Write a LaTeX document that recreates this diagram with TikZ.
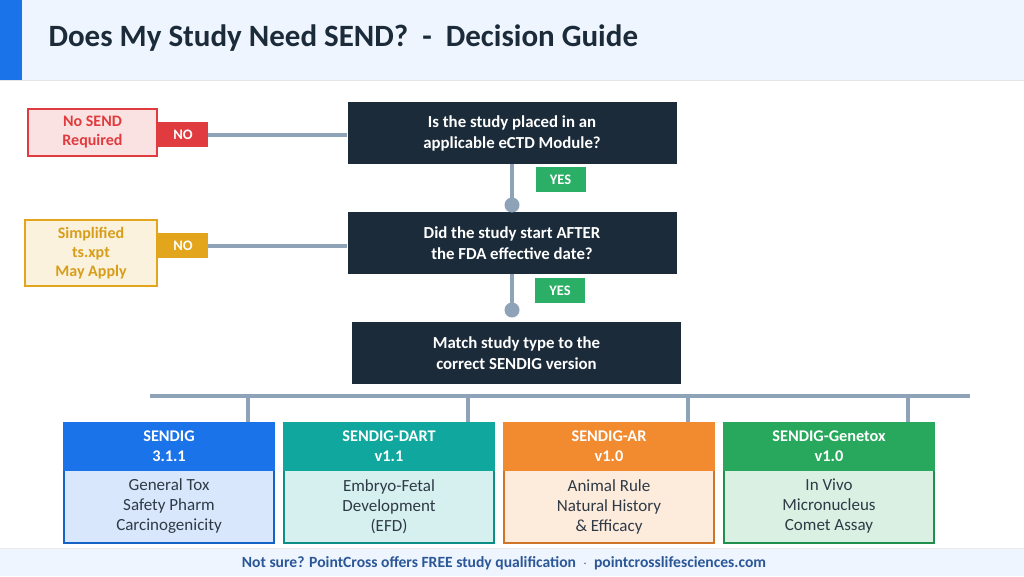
\documentclass[tikz,border=0pt]{standalone}
\usepackage{fontspec}
\setmainfont{Carlito}
\usetikzlibrary{positioning}

\definecolor{navy}{HTML}{1C2B3A}
\definecolor{linkgrey}{HTML}{8FA3B8}
\definecolor{nored}{HTML}{E03C3F}
\definecolor{nogold}{HTML}{E3A51B}
\definecolor{yesgreen}{HTML}{2BAE66}
\definecolor{sendblue}{HTML}{1A73E8}
\definecolor{sendteal}{HTML}{10A89E}
\definecolor{sendorange}{HTML}{F28A30}
\definecolor{sendgreen}{HTML}{27A85C}
\definecolor{bodytext}{HTML}{2E3A46}
\definecolor{bandbg}{HTML}{EEF5FE}
\definecolor{foottext}{HTML}{2B5797}

\begin{document}
\begin{tikzpicture}[x=1pt, y=-1pt,
    question/.style={fill=navy, text=white, minimum width=329pt, minimum height=62pt, inner sep=0pt, align=center, font=\bfseries\fontsize{16.8}{21}\selectfont},
    tag/.style={fill=#1, text=white, minimum width=50pt, minimum height=25pt, inner sep=0pt, font=\bfseries\fontsize{14.5}{16}\selectfont},
    outcome/.style={draw=#1, fill=#1!15, text=#1, line width=2pt, inner sep=0pt, align=center, font=\bfseries\fontsize{16}{19}\selectfont},
    cardhead/.style={fill=#1, draw=#1, text=white, line width=1.5pt, minimum width=210pt, minimum height=47pt, inner sep=0pt, align=center, font=\bfseries\fontsize{16.3}{20}\selectfont},
    cardbody/.style={fill=#1!17, draw=#1!85!black, text=bodytext, line width=1.5pt, minimum width=210pt, minimum height=73pt, inner sep=0pt, align=center, font=\fontsize{17}{20}\selectfont},
    link/.style={draw=linkgrey, line width=4pt},
    dot/.style={circle, fill=linkgrey, minimum size=15pt, inner sep=0pt}
]
\useasboundingbox (0,0) rectangle (1024,576);

% --- Cabecera y pie ---
\fill[bandbg] (0,0) rectangle (1024,80);
\draw[black!10, line width=1pt] (0,80) -- (1024,80);
\fill[sendblue] (0,0) rectangle (22,80);
\node[anchor=west, text=navy, font=\bfseries\fontsize{31}{36}\selectfont] (title) at (45,38) {Does My Study Need SEND?\ \ -\ \ Decision Guide};
\fill[bandbg] (0,548) rectangle (1024,576);
\draw[black!8, line width=1pt] (0,548) -- (1024,548);
\node[text=foottext, font=\bfseries\fontsize{15.6}{18}\selectfont] (foot) at (504,563) {Not sure? PointCross offers FREE study qualification\ \ $\cdot$\ \ pointcrosslifesciences.com};

% --- Preguntas ---
\node[question] (q1) at (512,133) {Is the study placed in an\\applicable eCTD Module?};
\node[question] (q2) at (512,243) {Did the study start AFTER\\the FDA effective date?};
\node[question] (q3) at (516.5,353) {Match study type to the\\correct SENDIG version};

% --- Respuestas NO ---
\node[tag=nored] (no1) at (183,134.5) {NO};
\node[outcome=nored, minimum width=129pt, minimum height=47pt] (nosend) at (92.5,132.5) {No SEND\\Required};
\node[tag=nogold] (no2) at (183,245.5) {NO};
\node[outcome=nogold, minimum width=132pt, minimum height=66pt, text=nogold!95!black] (simple) at (91,253) {Simplified\\ts.xpt\\May Apply};

% --- Respuestas SI ---
\node[dot] (dot1) at (512,205) {};
\node[dot] (dot2) at (512,310) {};
\node[tag=yesgreen] (yes1) at (560.5,179.5) {YES};
\node[tag=yesgreen] (yes2) at (560,290.5) {YES};

% --- Tarjetas SENDIG ---
\node[cardbody=sendblue] (body1) at (169,506.5) {General Tox\\Safety Pharm\\Carcinogenicity};
\node[cardhead=sendblue] (head1) at (169,446.5) {SENDIG\\3.1.1};
\node[cardbody=sendteal] (body2) at (389,506.5) {Embryo-Fetal\\Development\\(EFD)};
\node[cardhead=sendteal] (head2) at (389,446.5) {SENDIG-DART\\v1.1};
\node[cardbody=sendorange] (body3) at (609,506.5) {Animal Rule\\Natural History\\\& Efficacy};
\node[cardhead=sendorange] (head3) at (609,446.5) {SENDIG-AR\\v1.0};
\node[cardbody=sendgreen] (body4) at (829,506.5) {In Vivo\\Micronucleus\\Comet Assay};
\node[cardhead=sendgreen] (head4) at (829,446.5) {SENDIG-Genetox\\v1.0};

% --- Conexiones ---
\draw[link] (q1.west |- no1) -- (no1.east);
\draw[link] (q2.west |- no2) -- (no2.east);
\draw[link] (q1.south) -- (dot1.center);
\draw[link] (dot2 |- q2.south) -- (dot2.center);

\coordinate (busL) at (150,396);
\coordinate (busR) at (970,396);
\coordinate (drop1) at (248,396);
\coordinate (drop2) at (468,396);
\coordinate (drop3) at (688,396);
\coordinate (drop4) at (908,396);
\draw[link] (busL) -- (busR);
\draw[link] (drop1) -- (drop1 |- head1.north);
\draw[link] (drop2) -- (drop2 |- head2.north);
\draw[link] (drop3) -- (drop3 |- head3.north);
\draw[link] (drop4) -- (drop4 |- head4.north);

\end{tikzpicture}
\end{document}
